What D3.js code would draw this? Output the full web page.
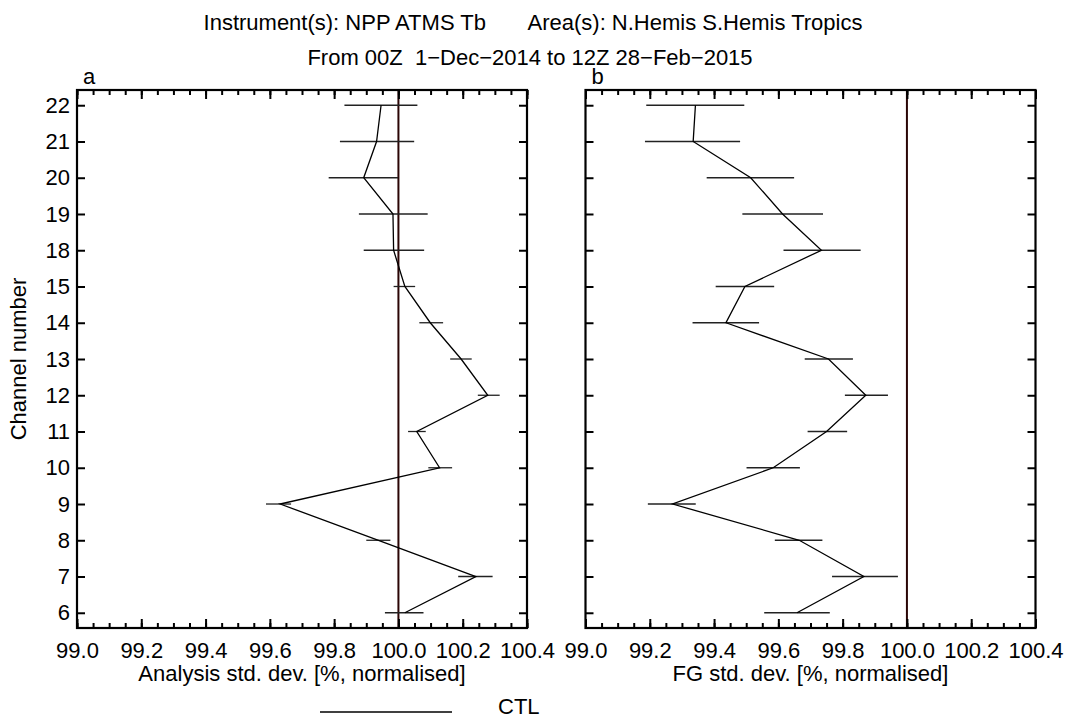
<!DOCTYPE html>
<html>
<head>
<meta charset="utf-8">
<script src="https://cdnjs.cloudflare.com/ajax/libs/d3/7.8.5/d3.min.js"></script>
<style>
  body { margin: 0; background: #fff; }
  text { font-family: "Liberation Sans", Arial, Helvetica, sans-serif; fill: #000; }
</style>
</head>
<body>
<div id="chart"></div>
<script>
// channels, bottom to top
var channels = [6, 7, 8, 9, 10, 11, 12, 13, 14, 15, 18, 19, 20, 21, 22];

// panel a: analysis std. dev. (centre, low end, high end of the bar)
var anMean = [100.020, 100.241, 99.938, 99.632, 100.128, 100.057, 100.278, 100.195, 100.099, 100.020, 99.985, 99.983, 99.892, 99.932, 99.946];
var anLow  = [99.958, 100.186, 99.900, 99.588, 100.093, 100.030, 100.247, 100.161, 100.065, 99.985, 99.892, 99.877, 99.783, 99.818, 99.832];
var anHigh = [100.078, 100.293, 99.975, 99.666, 100.167, 100.085, 100.315, 100.228, 100.139, 100.052, 100.080, 100.091, 99.999, 100.049, 100.059];

// panel b: first guess std. dev.
var fgMean = [99.658, 99.866, 99.665, 99.271, 99.584, 99.750, 99.872, 99.756, 99.437, 99.496, 99.734, 99.613, 99.514, 99.335, 99.342];
var fgLow  = [99.556, 99.767, 99.589, 99.194, 99.501, 99.691, 99.807, 99.682, 99.333, 99.405, 99.616, 99.488, 99.377, 99.185, 99.189];
var fgHigh = [99.760, 99.972, 99.737, 99.343, 99.667, 99.814, 99.941, 99.832, 99.540, 99.587, 99.856, 99.739, 99.649, 99.481, 99.494];

var xTicks = [99.0, 99.2, 99.4, 99.6, 99.8, 100.0, 100.2, 100.4];

var W = 1067, H = 724;
var yTop = 90, yBot = 628, pw = 450;
var fs = '22px';

var svg = d3.select('#chart').append('svg')
    .attr('width', W).attr('height', H);

// titles
svg.append('text').attr('x', 533).attr('y', 30).attr('text-anchor', 'middle')
    .style('font-size', fs).style('white-space', 'pre')
    .text('Instrument(s): NPP ATMS Tb       Area(s): N.Hemis S.Hemis Tropics');
svg.append('text').attr('x', 530).attr('y', 65).attr('text-anchor', 'middle')
    .style('font-size', fs).style('white-space', 'pre')
    .text('From 00Z  1\u2212Dec\u22122014 to 12Z 28\u2212Feb\u22122015');

var y = d3.scaleLinear().domain([-0.42, channels.length - 1 + 0.42]).range([yBot, yTop]);
var idx = d3.range(channels.length);

function panel(x0, letter, mean, low, high, title, showY) {
    var x = d3.scaleLinear().domain([99.0, 100.4]).range([x0, x0 + pw]);
    var g = svg.append('g');

    // reference line at 100
    g.append('line')
        .attr('x1', x(100)).attr('x2', x(100))
        .attr('y1', yTop).attr('y2', yBot)
        .attr('stroke', '#2a0505').attr('stroke-width', 2);

    // error bars
    g.selectAll('.bar').data(idx).enter().append('line')
        .attr('x1', function(i) { return x(low[i]); })
        .attr('x2', function(i) { return x(high[i]); })
        .attr('y1', function(i) { return y(i); })
        .attr('y2', function(i) { return y(i); })
        .attr('stroke', '#222').attr('stroke-width', 1.3);

    // profile
    var line = d3.line()
        .x(function(i) { return x(mean[i]); })
        .y(function(i) { return y(i); });
    g.append('path').datum(idx)
        .attr('d', line).attr('fill', 'none')
        .attr('stroke', '#000').attr('stroke-width', 1.3);

    // x axes, ticks pointing inward
    var minor = d3.range(99.0, 100.401, 0.05);
    g.append('g').attr('transform', 'translate(0,' + yBot + ')')
        .call(d3.axisBottom(x).tickValues(minor).tickSize(-5).tickFormat(''));
    g.append('g').attr('transform', 'translate(0,' + yBot + ')')
        .call(d3.axisBottom(x).tickValues(xTicks).tickSize(-9).tickPadding(14)
            .tickFormat(d3.format('.1f')));
    g.append('g').attr('transform', 'translate(0,' + yTop + ')')
        .call(d3.axisTop(x).tickValues(minor).tickSize(-5).tickFormat(''));
    g.append('g').attr('transform', 'translate(0,' + yTop + ')')
        .call(d3.axisTop(x).tickValues(xTicks).tickSize(-9).tickFormat(''));

    // y axes
    var ya = d3.axisLeft(y).tickValues(idx).tickSize(-8).tickPadding(7)
        .tickFormat(function(i) { return showY ? channels[i] : ''; });
    g.append('g').attr('transform', 'translate(' + x0 + ',0)').call(ya);
    g.append('g').attr('transform', 'translate(' + (x0 + pw) + ',0)')
        .call(d3.axisRight(y).tickValues(idx).tickSize(-8).tickFormat(''));

    g.selectAll('.domain').remove();
    g.selectAll('.tick line').attr('stroke', '#000').attr('stroke-width', 2);
    g.selectAll('.tick text').style('font-size', fs)
        .style('font-family', '"Liberation Sans", Arial, sans-serif').attr('fill', '#000');

    // frame
    g.append('rect').attr('x', x0).attr('y', yTop)
        .attr('width', pw).attr('height', yBot - yTop)
        .attr('fill', 'none').attr('stroke', '#000').attr('stroke-width', 2.2);

    g.append('text').attr('x', x0 + 6).attr('y', 84).style('font-size', fs).text(letter);
    g.append('text').attr('x', x0 + pw / 2).attr('y', 681).attr('text-anchor', 'middle')
        .style('font-size', fs).text(title);
}

panel(77, 'a', anMean, anLow, anHigh, 'Analysis std. dev. [%, normalised]', true);
panel(585.5, 'b', fgMean, fgLow, fgHigh, 'FG std. dev. [%, normalised]', false);

// y label
svg.append('text')
    .attr('transform', 'translate(26,' + ((yTop + yBot) / 2) + ') rotate(-90)')
    .attr('text-anchor', 'middle').style('font-size', fs)
    .text('Channel number');

// legend
svg.append('line').attr('x1', 320).attr('x2', 452).attr('y1', 712).attr('y2', 712)
    .attr('stroke', '#000').attr('stroke-width', 1.3);
svg.append('text').attr('x', 498).attr('y', 714).style('font-size', fs).text('CTL');
</script>
</body>
</html>
